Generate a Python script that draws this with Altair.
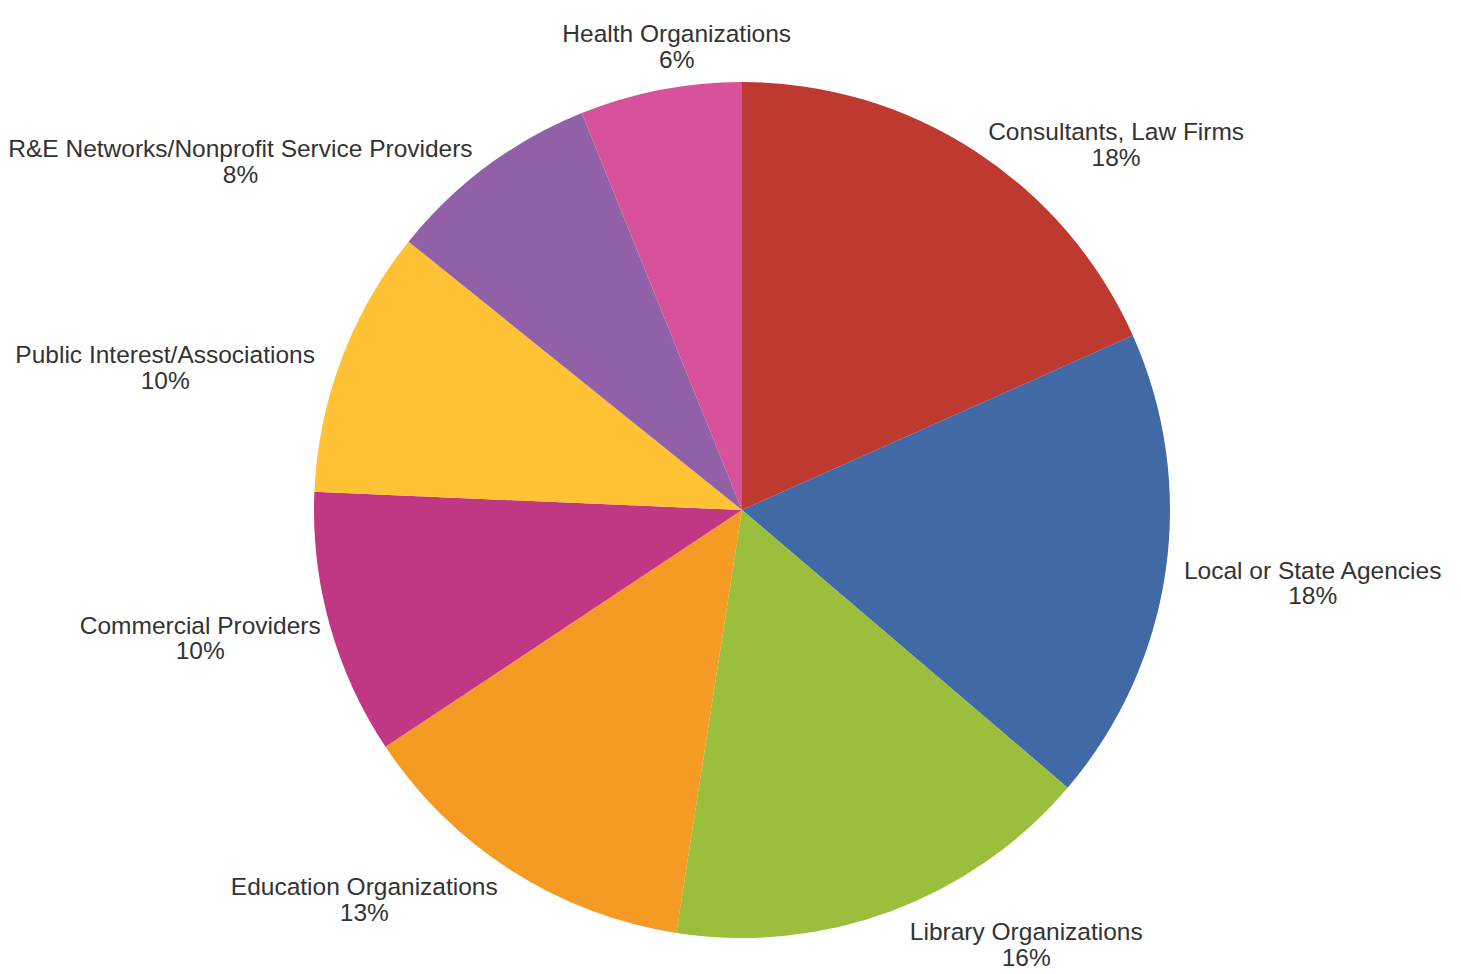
import altair as alt
import pandas as pd

categories = [
    "Consultants, Law Firms",
    "Local or State Agencies",
    "Library Organizations",
    "Education Organizations",
    "Commercial Providers",
    "Public Interest/Associations",
    "R&E Networks/Nonprofit Service Providers",
    "Health Organizations",
]
shares = [18.3, 17.9, 16.2, 13.2, 10.0, 10.1, 8.1, 6.1]
colors = ["#BE392F", "#4169A5", "#9BBE3D", "#F59A23", "#C03784", "#FEC234", "#9061A6", "#D8519B"]

df = pd.DataFrame({"category": categories, "share": shares, "idx": list(range(len(categories)))})

R = 428

pie = alt.Chart(df).mark_arc(outerRadius=R).encode(
    theta=alt.Theta("share:Q", stack=True),
    order=alt.Order("idx:Q", sort="ascending"),
    x=alt.value(734),
    y=alt.value(502),
    color=alt.Color("category:N", scale=alt.Scale(domain=categories, range=colors), legend=None),
)

labels = (
    alt.Chart(df)
    .transform_joinaggregate(total="sum(share)")
    .transform_window(cum="sum(share)", sort=[alt.SortField("idx")], frame=[None, 0])
    .transform_calculate(
        mid="(datum.cum - datum.share/2)/datum.total*2*PI",
        px=f"{R}*sin(datum.mid)",
        py=f"-{R}*cos(datum.mid)",
        hw="length(datum.category)*5.85",
        ddx="datum.px < 0 ? -datum.hw : datum.hw",
        ddy="datum.py < 0 ? -25 : 25",
        top="abs(datum.px) < datum.hw && datum.py < 0",
        cx="datum.top ? datum.px*0.8 : datum.px + datum.ddx + (datum.ddx < 0 ? -12.5 : 12.5)",
        cy=f"datum.top ? -({R} + 47) : datum.py + datum.ddy/(1 + datum.px*datum.px/(datum.py*datum.py))",
        lt="atan2(datum.cx, -datum.cy)",
        lr="sqrt(datum.cx*datum.cx + datum.cy*datum.cy)",
        txt="datum.category + '\\n' + format(datum.share/datum.total, '.0%')",
    )
    .mark_text(
        font="Liberation Sans",
        fontSize=24.5,
        lineHeight=25.5,
        lineBreak="\n",
        color="#333333",
        align="center",
        baseline="middle",
    )
    .encode(
        theta=alt.Theta("lt:Q", scale=None),
        radius=alt.Radius("lr:Q", scale=None),
        x=alt.value(734),
        y=alt.value(502),
        text="txt:N",
    )
)

chart = (
    alt.layer(pie, labels)
    .resolve_scale(theta="independent")
    .properties(width=1445, height=958, autosize=alt.AutoSizeParams(type="none"), padding=0)
    .configure_view(strokeWidth=0)
)

chart.save("out.html", embed_options={"renderer": "svg", "actions": False})
